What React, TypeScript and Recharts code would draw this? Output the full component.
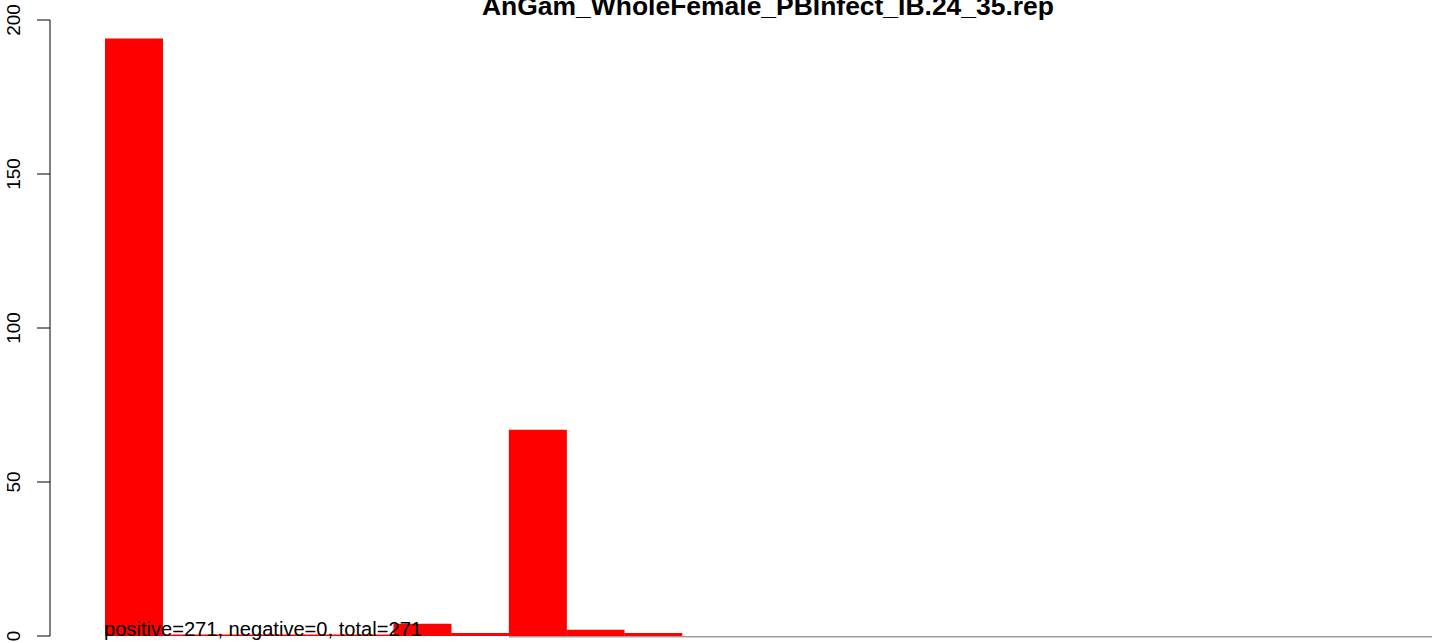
import React from "react";
import { BarChart, Bar, XAxis, YAxis, ReferenceArea } from "recharts";

const bins: string[] = [
  "1", "2", "3", "4", "5", "6", "7", "8", "9", "10", "11", "12",
  "13", "14", "15", "16", "17", "18", "19", "20", "21", "22", "23",
];
const counts: number[] = [
  194, 0.5, 0.5, 0.5, 0.5, 4, 1, 67, 2, 1, 0, 0,
  0, 0, 0, 0, 0, 0, 0, 0, 0, 0, 0,
];
const yTicks: number[] = [0, 50, 100, 150, 200];
const titleText = "AnGam_WholeFemale_PBInfect_IB.24_35.rep";
const noteText = "positive=271, negative=0, total=271";
const baselineFromBin = "8";
const baselineToBin = "23";

const data = bins.map((b, i) => ({ bin: b, count: counts[i] }));

const YTick = (props: any) => {
  const { x, y, payload } = props;
  const tx = x - 17;
  return (
    <text
      x={tx}
      y={y}
      transform={`rotate(-90 ${tx} ${y})`}
      textAnchor="middle"
      fontFamily="Liberation Sans, Arial, sans-serif"
      fontSize={19}
      fill="#000"
    >
      {payload.value}
    </text>
  );
};

export default function App() {
  return (
    <div style={{ position: "absolute", left: 0, top: 0, width: 1444, height: 643, background: "#fff" }}>
      <BarChart
        width={1444}
        height={643}
        data={data}
        margin={{ top: 20, right: 0, bottom: 7, left: 0 }}
        barCategoryGap={0}
        barGap={0}
      >
        <XAxis dataKey="bin" hide padding={{ left: 55, right: 12 }} />
        <YAxis
          width={50}
          domain={[0, 200]}
          ticks={yTicks}
          interval={0}
          tickSize={13}
          tickMargin={0}
          axisLine={{ stroke: "#000", strokeWidth: 1 }}
          tickLine={{ stroke: "#000", strokeWidth: 1 }}
          tick={<YTick />}
        />
        <ReferenceArea
          x1={baselineFromBin}
          x2={baselineToBin}
          y1={-0.5}
          y2={0}
          ifOverflow="visible"
          fill="#a0a0a0"
          fillOpacity={1}
          stroke="none"
        />
        <Bar dataKey="count" fill="#ff0000" isAnimationActive={false} />
      </BarChart>
      <svg
        width={1444}
        height={643}
        style={{ position: "absolute", left: 0, top: 0, pointerEvents: "none" }}
      >
        <text
          x={768}
          y={15}
          textAnchor="middle"
          fontFamily="Liberation Sans, Arial, sans-serif"
          fontWeight="bold"
          fontSize={26}
          textLength={572}
          lengthAdjust="spacingAndGlyphs"
          fill="#000"
        >
          {titleText}
        </text>
        <text
          x={104}
          y={636}
          fontFamily="Liberation Sans, Arial, sans-serif"
          fontSize={20}
          textLength={318}
          lengthAdjust="spacingAndGlyphs"
          fill="#000"
        >
          {noteText}
        </text>
      </svg>
    </div>
  );
}
